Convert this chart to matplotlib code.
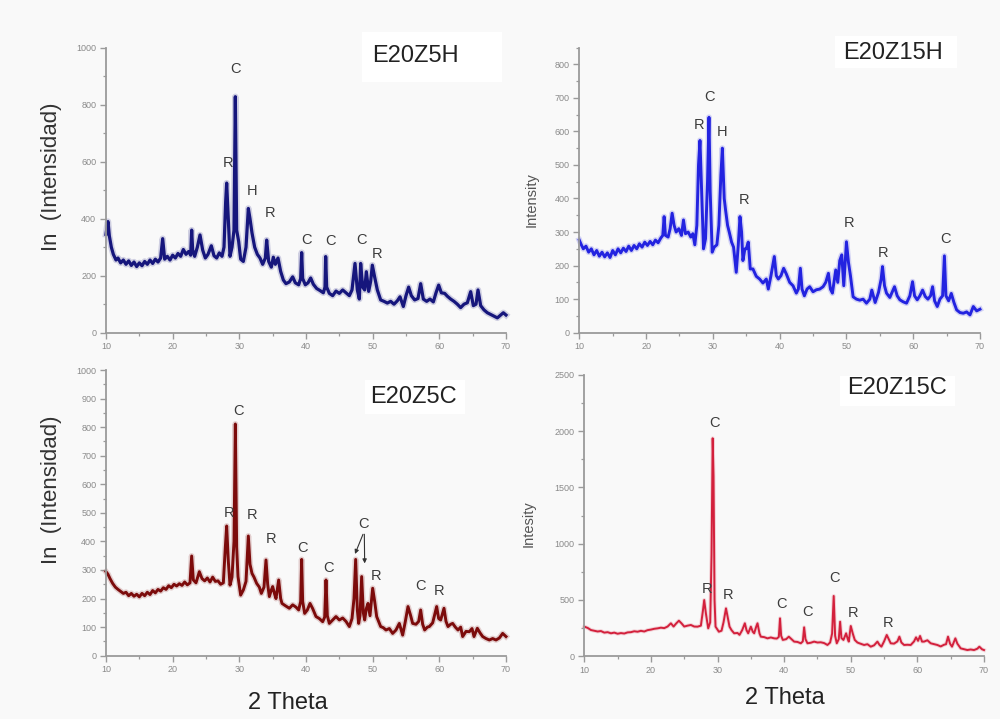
import matplotlib
matplotlib.use("Agg")
import matplotlib.pyplot as plt
import numpy as np
from matplotlib.ticker import MultipleLocator
from matplotlib.patches import Rectangle

plt.rcParams['font.family'] = ['Liberation Sans', 'DejaVu Sans']

# ---------------------------------------------------------------- data
# XRD patterns: (2 theta, intensity)
z5h = [(10.0, 345), (10.15, 370), (10.3, 390), (10.5, 340), (10.8, 300), (11.1, 275), (11.5, 255),
       (11.8, 262), (12.2, 245), (12.6, 255), (13.0, 240), (13.4, 252), (13.8, 236), (14.2, 248),
       (14.6, 232), (15.0, 245), (15.4, 235), (15.8, 250), (16.2, 240), (16.6, 255), (17.0, 243),
       (17.4, 258), (17.8, 248), (18.2, 262), (18.5, 330), (18.8, 258), (19.2, 268), (19.6, 255),
       (20.0, 272), (20.4, 262), (20.8, 278), (21.2, 268), (21.6, 292), (22.0, 275), (22.4, 285),
       (22.7, 272), (22.85, 360), (23.0, 290), (23.3, 268), (23.7, 300), (24.1, 343), (24.5, 290),
       (24.9, 262), (25.3, 275), (25.8, 305), (26.2, 270), (26.6, 262), (27.0, 280), (27.4, 268),
       (27.7, 300), (27.95, 460), (28.1, 525), (28.3, 420), (28.6, 268), (28.9, 300), (29.2, 360),
       (29.4, 828), (29.6, 360), (29.9, 320), (30.2, 258), (30.6, 250), (31.0, 300), (31.35, 436),
       (31.6, 400), (31.9, 350), (32.3, 300), (32.7, 275), (33.1, 262), (33.5, 240), (33.9, 262),
       (34.1, 325), (34.4, 250), (34.8, 230), (35.1, 265), (35.4, 240), (35.8, 262), (36.2, 215),
       (36.6, 185), (37.0, 172), (37.5, 178), (38.0, 196), (38.4, 175), (38.9, 168), (39.2, 190),
       (39.35, 281), (39.5, 190), (39.9, 168), (40.3, 175), (40.7, 192), (41.1, 170), (41.6, 155),
       (42.1, 148), (42.6, 140), (42.85, 160), (42.95, 267), (43.1, 160), (43.5, 138), (44.0, 130),
       (44.5, 146), (45.0, 138), (45.5, 150), (46.0, 140), (46.5, 130), (46.9, 150), (47.35, 243),
       (47.7, 150), (48.0, 118), (48.2, 243), (48.5, 160), (48.8, 150), (49.05, 214), (49.4, 145),
       (49.7, 180), (49.95, 237), (50.3, 195), (50.7, 150), (51.2, 115), (51.7, 110), (52.2, 104),
       (52.7, 110), (53.2, 100), (53.7, 112), (54.1, 126), (54.6, 92), (55.0, 130), (55.4, 160),
       (55.8, 130), (56.3, 115), (56.8, 120), (57.2, 172), (57.6, 118), (58.1, 110), (58.6, 118),
       (59.1, 108), (59.5, 140), (59.9, 167), (60.3, 140), (60.8, 138), (61.2, 128), (61.7, 118),
       (62.2, 110), (62.7, 100), (63.2, 88), (63.7, 100), (64.2, 105), (64.7, 144), (65.1, 95),
       (65.5, 100), (65.8, 150), (66.2, 95), (66.7, 80), (67.2, 70), (67.7, 64), (68.2, 58),
       (68.7, 52), (69.2, 62), (69.6, 70), (70.0, 62)]

z15h = [(10.0, 276), (10.3, 262), (10.6, 250), (11.0, 258), (11.4, 240), (11.8, 250), (12.2, 232),
        (12.6, 245), (13.0, 228), (13.4, 240), (13.8, 226), (14.2, 238), (14.6, 224), (15.0, 245),
        (15.4, 232), (15.8, 250), (16.2, 238), (16.6, 252), (17.0, 242), (17.4, 258), (17.8, 245),
        (18.2, 260), (18.6, 250), (19.0, 265), (19.4, 255), (19.8, 270), (20.2, 260), (20.6, 272),
        (21.0, 262), (21.4, 276), (21.8, 268), (22.2, 282), (22.5, 290), (22.7, 346), (22.9, 290),
        (23.3, 285), (23.6, 310), (23.9, 356), (24.2, 320), (24.5, 300), (24.9, 310), (25.3, 290),
        (25.6, 336), (25.9, 295), (26.3, 300), (26.7, 285), (27.0, 295), (27.3, 262), (27.6, 320),
        (27.85, 500), (28.07, 573), (28.3, 430), (28.6, 250), (28.9, 280), (29.2, 450), (29.42, 642),
        (29.6, 420), (29.9, 240), (30.2, 255), (30.6, 262), (30.9, 320), (31.2, 470), (31.42, 550),
        (31.7, 400), (31.9, 366), (32.2, 320), (32.5, 296), (32.8, 270), (33.1, 255), (33.5, 180),
        (33.8, 260), (34.06, 346), (34.3, 300), (34.5, 215), (34.8, 250), (35.0, 250), (35.3, 270),
        (35.6, 190), (36.0, 190), (36.5, 168), (37.0, 160), (37.5, 148), (38.0, 160), (38.3, 130),
        (38.7, 170), (39.2, 227), (39.5, 170), (39.8, 160), (40.2, 170), (40.6, 192), (41.0, 175),
        (41.5, 150), (42.0, 140), (42.5, 118), (42.8, 130), (43.1, 192), (43.35, 130), (43.7, 110),
        (44.1, 130), (44.5, 137), (45.0, 122), (45.5, 128), (46.0, 130), (46.5, 137), (46.9, 150),
        (47.3, 177), (47.6, 130), (47.9, 118), (48.4, 187), (48.7, 150), (49.0, 215), (49.3, 232),
        (49.6, 140), (50.0, 271), (50.3, 210), (50.6, 170), (51.0, 107), (51.5, 100), (52.0, 97),
        (52.5, 100), (53.0, 88), (53.5, 100), (53.8, 127), (54.3, 90), (54.8, 120), (55.2, 160),
        (55.4, 197), (55.7, 140), (56.0, 118), (56.5, 105), (57.2, 137), (57.6, 110), (58.0, 98),
        (58.5, 92), (59.0, 88), (59.5, 110), (59.9, 152), (60.2, 110), (60.6, 98), (61.0, 110),
        (61.4, 127), (61.8, 108), (62.2, 100), (62.6, 110), (62.9, 137), (63.2, 95), (63.6, 78),
        (64.0, 100), (64.4, 110), (64.67, 229), (64.9, 110), (65.3, 95), (65.7, 117), (66.1, 90),
        (66.5, 68), (67.0, 60), (67.5, 58), (68.0, 62), (68.5, 53), (69.0, 78), (69.5, 65), (70.0, 70)]

z5c = [(10.0, 294), (10.3, 285), (10.6, 270), (11.0, 253), (11.4, 240), (11.8, 232), (12.2, 225),
       (12.6, 218), (13.0, 222), (13.4, 210), (13.8, 218), (14.2, 208), (14.6, 215), (15.0, 206),
       (15.4, 218), (15.8, 210), (16.2, 222), (16.6, 214), (17.0, 228), (17.4, 220), (17.8, 232),
       (18.2, 226), (18.6, 238), (19.0, 232), (19.4, 245), (19.8, 238), (20.2, 250), (20.6, 244),
       (21.0, 252), (21.4, 246), (21.8, 258), (22.2, 248), (22.6, 255), (22.85, 349), (23.1, 265),
       (23.5, 255), (24.0, 294), (24.4, 270), (24.8, 262), (25.2, 272), (25.6, 258), (26.0, 275),
       (26.4, 260), (26.8, 262), (27.2, 250), (27.6, 255), (27.9, 380), (28.1, 454), (28.35, 330),
       (28.6, 247), (28.9, 275), (29.2, 400), (29.4, 811), (29.6, 380), (29.8, 277), (30.2, 212),
       (30.6, 230), (31.0, 260), (31.35, 419), (31.6, 320), (31.9, 288), (32.2, 275), (32.6, 253),
       (33.0, 240), (33.3, 218), (33.7, 240), (34.0, 335), (34.25, 250), (34.5, 207), (34.8, 230),
       (35.0, 242), (35.3, 215), (35.5, 200), (35.9, 265), (36.2, 200), (36.4, 183), (36.9, 175),
       (37.5, 166), (38.0, 178), (38.5, 170), (38.9, 160), (39.2, 190), (39.35, 337), (39.5, 190),
       (39.8, 148), (40.2, 160), (40.6, 183), (41.0, 165), (41.5, 137), (42.0, 130), (42.5, 119),
       (42.8, 135), (43.0, 265), (43.2, 140), (43.5, 113), (44.0, 125), (44.5, 137), (45.0, 125),
       (45.5, 132), (46.0, 120), (46.5, 102), (46.9, 130), (47.2, 200), (47.45, 337), (47.7, 160),
       (47.9, 113), (48.1, 140), (48.35, 277), (48.6, 150), (48.8, 125), (49.05, 165), (49.3, 183),
       (49.6, 140), (50.0, 236), (50.3, 190), (50.6, 137), (51.2, 102), (51.6, 98), (52.0, 90),
       (52.5, 95), (53.0, 78), (53.5, 90), (54.0, 113), (54.5, 72), (54.9, 120), (55.3, 172),
       (55.7, 140), (56.0, 113), (56.5, 110), (56.9, 120), (57.2, 160), (57.5, 110), (57.8, 90),
       (58.2, 100), (58.5, 102), (59.0, 115), (59.6, 172), (59.9, 130), (60.2, 125), (60.7, 166),
       (61.0, 120), (61.3, 102), (61.7, 110), (62.0, 113), (62.4, 100), (62.8, 90), (63.2, 100),
       (63.5, 67), (64.0, 85), (64.5, 84), (64.9, 95), (65.2, 67), (65.7, 96), (66.1, 80),
       (66.5, 67), (67.0, 60), (67.5, 55), (68.0, 60), (68.5, 55), (69.0, 62), (69.5, 78), (70.0, 67)]

z15c = [(10.0, 261), (10.5, 250), (11.0, 231), (11.5, 225), (12.0, 218), (12.5, 222), (13.0, 208),
        (13.5, 212), (14.0, 202), (14.5, 208), (15.0, 198), (15.5, 204), (16.0, 200), (16.5, 210),
        (17.0, 212), (17.5, 220), (18.0, 216), (18.5, 224), (19.0, 218), (19.5, 230), (20.0, 235),
        (20.5, 242), (21.0, 246), (21.5, 252), (22.0, 248), (22.5, 262), (23.0, 291), (23.4, 262),
        (23.8, 290), (24.2, 314), (24.6, 290), (25.0, 262), (25.5, 270), (26.0, 276), (26.5, 262),
        (27.0, 261), (27.5, 270), (27.8, 400), (28.0, 498), (28.25, 380), (28.6, 246), (28.9, 300),
        (29.1, 900), (29.27, 1937), (29.4, 1600), (29.55, 500), (29.7, 261), (30.2, 216), (30.6, 225),
        (30.9, 300), (31.27, 424), (31.6, 320), (31.8, 261), (32.1, 230), (32.5, 202), (33.0, 205),
        (33.3, 188), (33.7, 230), (34.1, 291), (34.35, 230), (34.6, 202), (35.0, 261), (35.3, 215),
        (35.5, 202), (35.8, 260), (36.0, 291), (36.3, 200), (36.5, 172), (37.0, 168), (37.5, 157),
        (38.0, 165), (38.5, 157), (38.9, 155), (39.2, 170), (39.38, 335), (39.55, 180), (39.8, 143),
        (40.3, 150), (40.7, 172), (41.1, 150), (41.5, 128), (42.0, 125), (42.5, 113), (42.8, 130),
        (43.0, 255), (43.2, 150), (43.5, 113), (44.0, 118), (44.5, 128), (45.0, 120), (45.5, 122),
        (46.0, 115), (46.5, 98), (46.9, 120), (47.2, 200), (47.44, 534), (47.65, 180), (47.9, 113),
        (48.2, 150), (48.4, 305), (48.6, 160), (48.9, 143), (49.3, 202), (49.55, 150), (49.7, 128),
        (50.0, 267), (50.3, 200), (50.6, 143), (51.0, 120), (51.3, 113), (52.0, 98), (52.5, 105),
        (53.0, 83), (53.5, 95), (54.0, 128), (54.3, 100), (54.6, 83), (55.0, 130), (55.4, 187),
        (55.7, 150), (56.0, 113), (56.5, 110), (57.0, 130), (57.3, 172), (57.6, 120), (58.0, 98),
        (58.5, 100), (59.0, 98), (59.5, 130), (59.8, 166), (60.1, 135), (60.4, 178), (60.7, 128),
        (61.0, 128), (61.5, 140), (62.0, 113), (62.5, 105), (63.0, 98), (63.5, 85), (64.0, 100),
        (64.3, 105), (64.6, 172), (64.9, 110), (65.2, 83), (65.7, 157), (66.0, 110), (66.5, 68),
        (67.0, 60), (67.5, 53), (68.0, 58), (68.5, 53), (69.0, 65), (69.3, 83), (69.7, 60), (70.0, 53)]

# phase labels: (letter, 2 theta, intensity)
z5h_peaks = [("C", 29.35, 927), ("R", 28.35, 594), ("H", 31.85, 498), ("R", 34.6, 421),
             ("C", 40.1, 327), ("C", 43.6, 323), ("C", 48.35, 327), ("R", 50.6, 276)]
z15h_peaks = [("C", 29.47, 702), ("R", 27.92, 619), ("H", 31.42, 597), ("R", 34.66, 396),
              ("R", 50.39, 328), ("R", 55.53, 239), ("C", 64.77, 278)]
z5c_peaks = [("C", 29.85, 856), ("R", 28.4, 498), ("R", 31.95, 492), ("R", 34.7, 407),
             ("C", 39.5, 378), ("C", 43.45, 306), ("C", 48.6, 461), ("R", 50.5, 280),
             ("C", 57.2, 244), ("R", 59.95, 226)]
z15c_peaks = [("C", 29.47, 2070), ("R", 28.37, 593), ("R", 31.62, 543), ("C", 39.63, 463),
              ("C", 43.48, 394), ("C", 47.49, 697), ("R", 50.39, 380), ("R", 55.54, 297)]

# ---------------------------------------------------------------- figure
W, H = 1000, 719
fig = plt.figure(figsize=(W / 100, H / 100), dpi=100, facecolor="#f9f9f9")

# white panels behind the sample names
for (x, y, w, h) in [(362, 32, 140, 50), (835, 36, 122, 32), (365, 380, 100, 34), (840, 376, 115, 30)]:
    fig.patches.append(Rectangle((x / W, 1 - (y + h) / H), w / W, h / H,
                                 transform=fig.transFigure, facecolor="white",
                                 edgecolor="none", zorder=0))


def make_axes(left, right, top, bottom):
    return fig.add_axes([left / W, 1 - bottom / H, (right - left) / W, (bottom - top) / H])


def style(ax, ymax, ymajor, yminor):
    ax.set_facecolor("none")
    ax.set_xlim(10, 70)
    ax.set_ylim(0, ymax)
    for s in ("top", "right"):
        ax.spines[s].set_visible(False)
    for s in ("left", "bottom"):
        ax.spines[s].set_color("#9a9a9a")
        ax.spines[s].set_linewidth(1.3)
    ax.xaxis.set_major_locator(MultipleLocator(10))
    ax.xaxis.set_minor_locator(MultipleLocator(5))
    ax.yaxis.set_major_locator(MultipleLocator(ymajor))
    ax.yaxis.set_minor_locator(MultipleLocator(yminor))
    ax.tick_params(which="major", direction="out", length=4, width=1.0, color="#9a9a9a",
                   labelsize=6.5, labelcolor="#8a8a8a", pad=3)
    ax.tick_params(which="minor", direction="out", length=2.5, width=0.9, color="#9a9a9a")


def draw(ax, data, color, lw, peaks):
    tt, ii = np.array(data, dtype=float).T
    ax.plot(tt, ii, color=color, lw=lw * 2.0, alpha=0.18, solid_joinstyle="round", clip_on=False)
    ax.plot(tt, ii, color=color, lw=lw, solid_joinstyle="round", clip_on=False)
    for letter, x, y in peaks:
        ax.text(x, y, letter, ha="center", va="center", fontsize=10.5, color="#3c3c3c")


ax1 = make_axes(106, 506, 47.7, 332.7)
style(ax1, 1000, 200, 100)
draw(ax1, z5h, "#16167c", 2.3, z5h_peaks)

ax2 = make_axes(579.3, 980, 47.5, 332.7)
style(ax2, 850, 100, 50)
draw(ax2, z15h, "#2323e0", 2.1, z15h_peaks)

ax3 = make_axes(106, 506, 370, 655.7)
style(ax3, 1000, 100, 50)
draw(ax3, z5c, "#7c0b0b", 2.1, z5c_peaks)
for tx, ty in [(47.35, 356), (48.8, 323)]:
    ax3.annotate("", xy=(tx, ty), xytext=(48.55 if tx < 48 else 48.75, 425),
                 arrowprops=dict(arrowstyle="-|>", color="#333333", lw=0.8, mutation_scale=6,
                                 shrinkA=0, shrinkB=0))

ax4 = make_axes(584.3, 984, 375, 656)
style(ax4, 2500, 500, 250)
draw(ax4, z15c, "#d3203c", 1.4, z15c_peaks)

# sample names
fig.text(415 / W, 1 - 56 / H, "E20Z5H", fontsize=17, color="#222222", ha="center", va="center")
fig.text(893 / W, 1 - 53 / H, "E20Z15H", fontsize=17, color="#222222", ha="center", va="center")
fig.text(413 / W, 1 - 397 / H, "E20Z5C", fontsize=17, color="#222222", ha="center", va="center")
fig.text(897 / W, 1 - 388 / H, "E20Z15C", fontsize=17, color="#222222", ha="center", va="center")

# axis titles
fig.text(52 / W, 1 - 177 / H, "In  (Intensidad)", fontsize=16, color="#333333",
         rotation=90, ha="center", va="center")
fig.text(52 / W, 1 - 490 / H, "In  (Intensidad)", fontsize=16, color="#333333",
         rotation=90, ha="center", va="center")
fig.text(532 / W, 1 - 200 / H, "Intensity", fontsize=10.5, color="#555555",
         rotation=90, ha="center", va="center")
fig.text(529 / W, 1 - 524 / H, "Intesity", fontsize=10.5, color="#555555",
         rotation=90, ha="center", va="center")
fig.text(288 / W, 1 - 703 / H, "2 Theta", fontsize=17, color="#222222", ha="center", va="center")
fig.text(785 / W, 1 - 698 / H, "2 Theta", fontsize=17, color="#222222", ha="center", va="center")

fig.savefig("out.png", dpi=100, facecolor=fig.get_facecolor())
